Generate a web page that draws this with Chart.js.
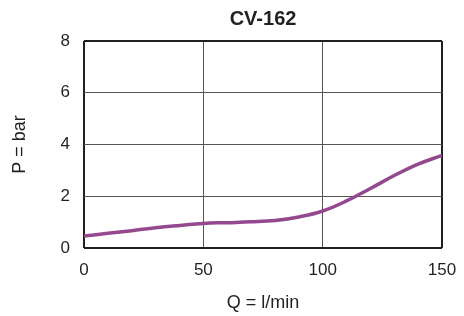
<!DOCTYPE html>
<html><head><meta charset="utf-8">
<script src="https://cdn.jsdelivr.net/npm/chart.js@4/dist/chart.umd.min.js"></script>
<style>html,body{margin:0;padding:0;background:#fff}#wrap{width:464px;height:316px}</style>
</head><body><div id="wrap"><canvas id="c" width="464" height="316"></canvas></div>
<script>
const flowQ = [0,10,20,30,40,50,60,70,80,90,100,110,120,130,140,150];
const pressureP = [0.46,0.57,0.67,0.78,0.87,0.95,0.98,1.01,1.06,1.20,1.43,1.82,2.30,2.80,3.24,3.58];
const xTicks = [0,50,100,150];
const yTicks = [0,2,4,6,8];
const chartTitle = 'CV-162';
const xTitle = 'Q = l/min';
const yTitle = 'P = bar';

const pts = flowQ.map((q,i)=>({x:q,y:pressureP[i]}));
const edgeColor = (ctx, max) => (ctx.tick && (ctx.tick.value===0 || ctx.tick.value===max)) ? '#231f20' : '#555';
const edgeWidth = (ctx, max) => (ctx.tick && (ctx.tick.value===0 || ctx.tick.value===max)) ? 2 : 1;

new Chart(document.getElementById('c'), {
  type: 'line',
  data: { datasets: [{ data: pts, borderColor: '#94498e', borderWidth: 3.5, pointRadius: 0, tension: 0.4, fill: false }] },
  options: {
    responsive: false, animation: false,
    layout: { padding: { left: 9, right: 0, top: 5, bottom: 2 } },
    plugins: {
      legend: { display: false }, tooltip: { enabled: false },
      title: { display: true, text: chartTitle, fullSize: false, color: '#231f20', font: { family: 'Liberation Sans', size: 20, weight: 'bold' }, padding: { top: 2, bottom: 10 } }
    },
    scales: {
      x: { type: 'linear', min: 0, max: 150,
        afterBuildTicks: a => { a.ticks = xTicks.map(v=>({value:v})); },
        afterFit: s => { s.paddingRight = 22; },
        grid: { color: c=>edgeColor(c,150), lineWidth: c=>edgeWidth(c,150), drawTicks: false },
        border: { display: false },
        ticks: { color: '#231f20', padding: 12, font: { family: 'Liberation Sans', size: 17 } },
        title: { display: true, text: xTitle, color: '#231f20', font: { family: 'Liberation Sans', size: 18 }, padding: { top: 0, bottom: 0 } } },
      y: { min: 0, max: 8,
        afterBuildTicks: a => { a.ticks = yTicks.map(v=>({value:v})); },
        grid: { color: c=>edgeColor(c,8), lineWidth: c=>edgeWidth(c,8), drawTicks: false },
        border: { display: false },
        ticks: { color: '#231f20', padding: 14, font: { family: 'Liberation Sans', size: 17 } },
        title: { display: true, text: yTitle, color: '#231f20', font: { family: 'Liberation Sans', size: 18 }, padding: { top: 0, bottom: 16 } } }
    }
  }
});
</script></body></html>
